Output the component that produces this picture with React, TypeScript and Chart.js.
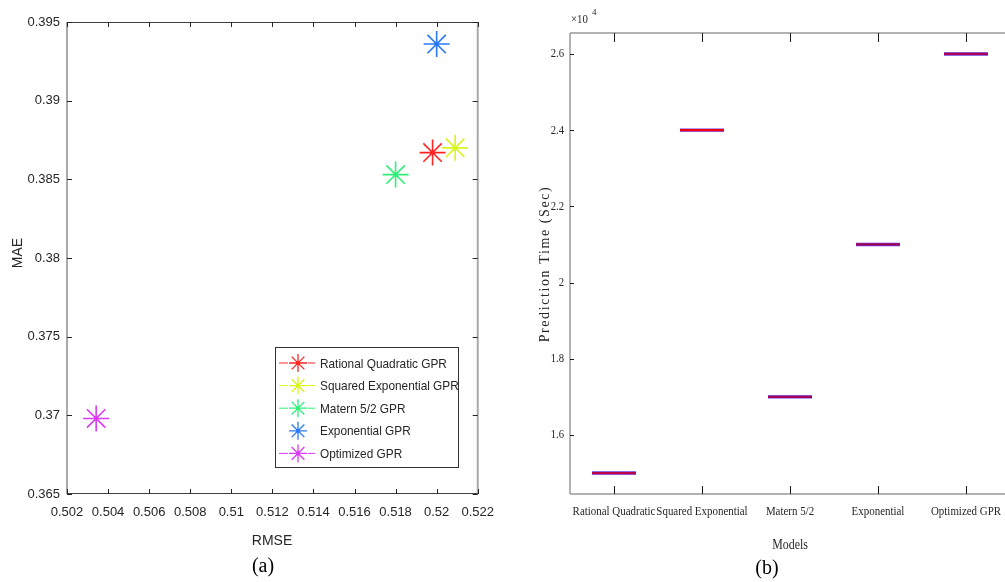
import React, { useEffect, useRef } from 'react';
import { Chart, registerables } from 'chart.js';
Chart.register(...registerables);

// ---------- Panel (a) data ----------
const seriesNames = ['Rational Quadratic GPR', 'Squared Exponential GPR', 'Matern 5/2 GPR', 'Exponential GPR', 'Optimized GPR'];
const rmseValues = [0.5198, 0.5209, 0.518, 0.52, 0.50342];
const maeValues = [0.3867, 0.3870, 0.3853, 0.3936, 0.3698];
const seriesColors = ['#ff2424', '#d8f51c', '#2cf078', '#2878f5', '#dd38f8'];
const legendDashed = [true, true, true, false, true];
const rmseTicks = [0.502, 0.504, 0.506, 0.508, 0.51, 0.512, 0.514, 0.516, 0.518, 0.52, 0.522];
const maeTicks = [0.365, 0.37, 0.375, 0.38, 0.385, 0.39, 0.395];

// ---------- Panel (b) data ----------
const modelNames = ['Rational Quadratic', 'Squared Exponential', 'Matern 5/2', 'Exponential', 'Optimized GPR'];
const predictionTimes = [15000, 24000, 17000, 21000, 26000];
const medianColors = ['#bc004c', '#ee0018', '#a2005c', '#a2005c', '#aa0058'];
const timeTicks = [16000, 18000, 20000, 22000, 24000, 26000];

const SANS = '"Liberation Sans", Arial, sans-serif';
const SERIF = '"Liberation Serif", "Times New Roman", serif';
const TEXT = '#262626';

function drawStar(ctx: CanvasRenderingContext2D, cx: number, cy: number, r: number, color: string, lw: number) {
  ctx.save();
  ctx.strokeStyle = color;
  ctx.lineWidth = lw;
  ctx.beginPath();
  for (let k = 0; k < 4; k++) {
    const ang = (k * Math.PI) / 4;
    const dx = Math.cos(ang) * r, dy = Math.sin(ang) * r;
    ctx.moveTo(cx - dx, cy - dy);
    ctx.lineTo(cx + dx, cy + dy);
  }
  ctx.stroke();
  ctx.fillStyle = color;
  ctx.beginPath();
  ctx.arc(cx, cy, 2, 0, Math.PI * 2);
  ctx.fill();
  ctx.restore();
}

function condensedText(ctx: CanvasRenderingContext2D, text: string, x: number, y: number, sx: number) {
  ctx.save();
  ctx.translate(x, y);
  ctx.scale(sx, 1);
  ctx.fillText(text, 0, 0);
  ctx.restore();
}

const leftDecor = {
  id: 'leftDecor',
  afterDraw(chart: any) {
    const { ctx, chartArea: a, scales } = chart;
    const xs = scales.x, ys = scales.y;
    ctx.save();
    // box
    ctx.strokeStyle = '#a9a9a9';
    ctx.lineWidth = 2;
    ctx.beginPath();
    ctx.moveTo(a.left, a.top); ctx.lineTo(a.left, a.bottom);
    ctx.moveTo(a.right, a.top); ctx.lineTo(a.right, a.bottom);
    ctx.stroke();
    ctx.strokeStyle = '#404040';
    ctx.lineWidth = 1;
    ctx.beginPath();
    ctx.moveTo(a.left, a.top + 0.5); ctx.lineTo(a.right, a.top + 0.5);
    ctx.moveTo(a.left, a.bottom - 0.5); ctx.lineTo(a.right, a.bottom - 0.5);
    ctx.stroke();
    // inward ticks
    ctx.strokeStyle = '#262626';
    ctx.beginPath();
    xs.ticks.forEach((t: any) => {
      const px = Math.round(xs.getPixelForValue(t.value)) + 0.5;
      ctx.moveTo(px, a.bottom); ctx.lineTo(px, a.bottom - 5);
      ctx.moveTo(px, a.top); ctx.lineTo(px, a.top + 5);
    });
    ys.ticks.forEach((t: any) => {
      const py = Math.round(ys.getPixelForValue(t.value)) + 0.5;
      ctx.moveTo(a.left, py); ctx.lineTo(a.left + 5, py);
      ctx.moveTo(a.right, py); ctx.lineTo(a.right - 5, py);
    });
    ctx.stroke();
    // legend
    const lx = 275, ly = 347, lw = 183, lh = 120;
    ctx.fillStyle = '#ffffff';
    ctx.fillRect(lx, ly, lw, lh);
    ctx.strokeStyle = '#333333';
    ctx.lineWidth = 1;
    ctx.strokeRect(lx + 0.5, ly + 0.5, lw, lh);
    ctx.font = `13px ${SANS}`;
    ctx.textBaseline = 'middle';
    ctx.textAlign = 'left';
    seriesNames.forEach((name, i) => {
      const yy = 363 + i * 22.6;
      const c = seriesColors[i];
      if (legendDashed[i]) {
        ctx.strokeStyle = c;
        ctx.lineWidth = 1;
        ctx.beginPath();
        ctx.moveTo(279, yy); ctx.lineTo(288, yy);
        ctx.moveTo(308, yy); ctx.lineTo(315, yy);
        ctx.stroke();
      }
      drawStar(ctx, 298, yy, 9, c, 1.3);
      ctx.fillStyle = TEXT;
      condensedText(ctx, name, 320, yy + 1, 0.91);
    });
    // titles
    ctx.fillStyle = TEXT;
    ctx.font = `14px ${SANS}`;
    ctx.textAlign = 'center';
    ctx.textBaseline = 'middle';
    ctx.fillText('RMSE', 272, 541);
    ctx.save();
    ctx.translate(18, 253);
    ctx.rotate(-Math.PI / 2);
    ctx.fillText('MAE', 0, 0);
    ctx.restore();
    ctx.fillStyle = '#000';
    ctx.font = `20px ${SERIF}`;
    ctx.fillText('(a)', 263, 567);
    ctx.restore();
  },
  afterDatasetsDraw(chart: any) {
    const ctx = chart.ctx;
    chart.data.datasets.forEach((ds: any, i: number) => {
      const meta = chart.getDatasetMeta(i);
      meta.data.forEach((el: any) => {
        ctx.save();
        ctx.fillStyle = ds.borderColor;
        ctx.beginPath();
        ctx.arc(el.x, el.y, 2.2, 0, Math.PI * 2);
        ctx.fill();
        ctx.restore();
      });
    });
  },
};

const rightDecor = {
  id: 'rightDecor',
  afterDraw(chart: any) {
    const { ctx, chartArea: a, scales } = chart;
    const xs = scales.x, ys = scales.y;
    ctx.save();
    ctx.strokeStyle = '#9a9a9a';
    ctx.lineWidth = 1.5;
    ctx.beginPath();
    ctx.moveTo(a.left, a.top); ctx.lineTo(a.left, a.bottom);
    ctx.moveTo(a.left, a.top); ctx.lineTo(a.right, a.top);
    ctx.moveTo(a.left, a.bottom); ctx.lineTo(a.right, a.bottom);
    ctx.moveTo(a.right, a.top); ctx.lineTo(a.right, a.bottom);
    ctx.stroke();
    ctx.strokeStyle = '#1a1a1a';
    ctx.lineWidth = 1;
    ctx.beginPath();
    xs.ticks.forEach((t: any) => {
      const px = Math.round(xs.getPixelForValue(t.value)) + 0.5;
      ctx.moveTo(px, a.bottom); ctx.lineTo(px, a.bottom - 8);
      ctx.moveTo(px, a.top); ctx.lineTo(px, a.top + 9);
    });
    ys.ticks.forEach((t: any) => {
      const py = Math.round(ys.getPixelForValue(t.value)) + 0.5;
      ctx.moveTo(a.left, py); ctx.lineTo(a.left + 4, py);
    });
    ctx.stroke();
    // tick labels (condensed serif, like the reference)
    ctx.fillStyle = TEXT;
    ctx.textBaseline = 'middle';
    ctx.font = `13px ${SERIF}`;
    ctx.textAlign = 'center';
    xs.ticks.forEach((t: any) => {
      const px = xs.getPixelForValue(t.value);
      condensedText(ctx, modelNames[Math.round(t.value) - 1], px, 512, 0.84);
    });
    ctx.textAlign = 'right';
    ys.ticks.forEach((t: any) => {
      const py = ys.getPixelForValue(t.value);
      condensedText(ctx, String(t.value / 10000), a.left - 6, py, 0.82);
    });
    // titles
    ctx.textAlign = 'center';
    ctx.font = `14px ${SERIF}`;
    condensedText(ctx, 'Models', 285, 545, 0.85);
    ctx.save();
    ctx.font = `14px ${SERIF}`;
    ctx.translate(40, 264);
    ctx.rotate(-Math.PI / 2);
    (ctx as any).letterSpacing = '1.6px';
    ctx.fillText('Prediction Time (Sec)', 0, 0);
    ctx.restore();
    // exponent
    ctx.textAlign = 'left';
    ctx.font = `12px ${SERIF}`;
    condensedText(ctx, '\u00d710', a.left + 1, 20, 0.9);
    ctx.font = `9px ${SERIF}`;
    ctx.fillText('4', a.left + 22, 13);
    ctx.fillStyle = '#000';
    ctx.textAlign = 'center';
    ctx.font = `20px ${SERIF}`;
    ctx.fillText('(b)', 262, 569);
    ctx.restore();
  },
};

export default function App() {
  const leftRef = useRef<HTMLCanvasElement>(null);
  const rightRef = useRef<HTMLCanvasElement>(null);

  useEffect(() => {
    const left = new Chart(leftRef.current as HTMLCanvasElement, {
      type: 'scatter',
      data: {
        datasets: seriesNames.map((name, i) => ({
          label: name,
          data: [{ x: rmseValues[i], y: maeValues[i] }],
          pointStyle: 'star',
          pointRadius: 13,
          pointHoverRadius: 13,
          borderColor: seriesColors[i],
          backgroundColor: seriesColors[i],
          borderWidth: 1.6,
        })),
      },
      options: {
        animation: false,
        responsive: false,
        layout: { padding: { top: 22, right: 27, left: 0, bottom: 0 } },
        plugins: { legend: { display: false }, tooltip: { enabled: false } },
        scales: {
          x: {
            type: 'linear',
            min: 0.502,
            max: 0.522,
            afterBuildTicks: (s: any) => { s.ticks = rmseTicks.map((v) => ({ value: v })); },
            afterFit: (s: any) => { s.height = 88; },
            grid: { display: false, drawTicks: false },
            border: { display: false },
            ticks: {
              autoSkip: false,
              maxRotation: 0,
              padding: 11,
              color: TEXT,
              font: { family: SANS, size: 13 },
              callback: (v: any) => String(Number(Number(v).toFixed(3))),
            },
          },
          y: {
            type: 'linear',
            min: 0.365,
            max: 0.395,
            afterBuildTicks: (s: any) => { s.ticks = maeTicks.map((v) => ({ value: v })); },
            afterFit: (s: any) => { s.width = 67; },
            grid: { display: false, drawTicks: false },
            border: { display: false },
            ticks: {
              autoSkip: false,
              padding: 7,
              color: TEXT,
              font: { family: SANS, size: 13 },
              callback: (v: any) => String(Number(Number(v).toFixed(3))),
            },
          },
        },
      },
      plugins: [leftDecor],
    } as any);

    // Chart.js paints the first dataset on top, so the median colour goes first.
    const boxDatasets: any[] = [];
    predictionTimes.forEach((v, i) => {
      const pts = [{ x: i + 1 - 0.25, y: v }, { x: i + 1 + 0.25, y: v }];
      boxDatasets.push({
        data: pts, showLine: true, pointRadius: 0, borderColor: medianColors[i], borderWidth: 2.2, order: 0,
      });
      boxDatasets.push({
        data: pts, showLine: true, pointRadius: 0, borderColor: '#6a3ce0', borderWidth: 3.4, order: 1,
      });
    });

    const right = new Chart(rightRef.current as HTMLCanvasElement, {
      type: 'scatter',
      data: { datasets: boxDatasets },
      options: {
        animation: false,
        responsive: false,
        layout: { padding: { top: 33, right: 5, left: 0, bottom: 0 } },
        plugins: { legend: { display: false }, tooltip: { enabled: false } },
        scales: {
          x: {
            type: 'linear',
            min: 0.5,
            max: 5.5,
            afterBuildTicks: (s: any) => { s.ticks = modelNames.map((_, i) => ({ value: i + 1 })); },
            afterFit: (s: any) => { s.height = 88; },
            grid: { display: false, drawTicks: false },
            border: { display: false },
            ticks: { display: false },
          },
          y: {
            type: 'linear',
            min: 14450,
            max: 26550,
            afterBuildTicks: (s: any) => { s.ticks = timeTicks.map((v) => ({ value: v })); },
            afterFit: (s: any) => { s.width = 65; },
            grid: { display: false, drawTicks: false },
            border: { display: false },
            ticks: { display: false },
          },
        },
      },
      plugins: [rightDecor],
    } as any);

    return () => {
      left.destroy();
      right.destroy();
    };
  }, []);

  return (
    <div style={{ position: 'fixed', left: 0, top: 0, width: 1005, height: 582, overflow: 'hidden', background: '#fff' }}>
      <canvas ref={leftRef} width={505} height={582} style={{ position: 'absolute', left: 0, top: 0, display: 'block' }} />
      <canvas ref={rightRef} width={510} height={582} style={{ position: 'absolute', left: 505, top: 0, display: 'block' }} />
    </div>
  );
}
